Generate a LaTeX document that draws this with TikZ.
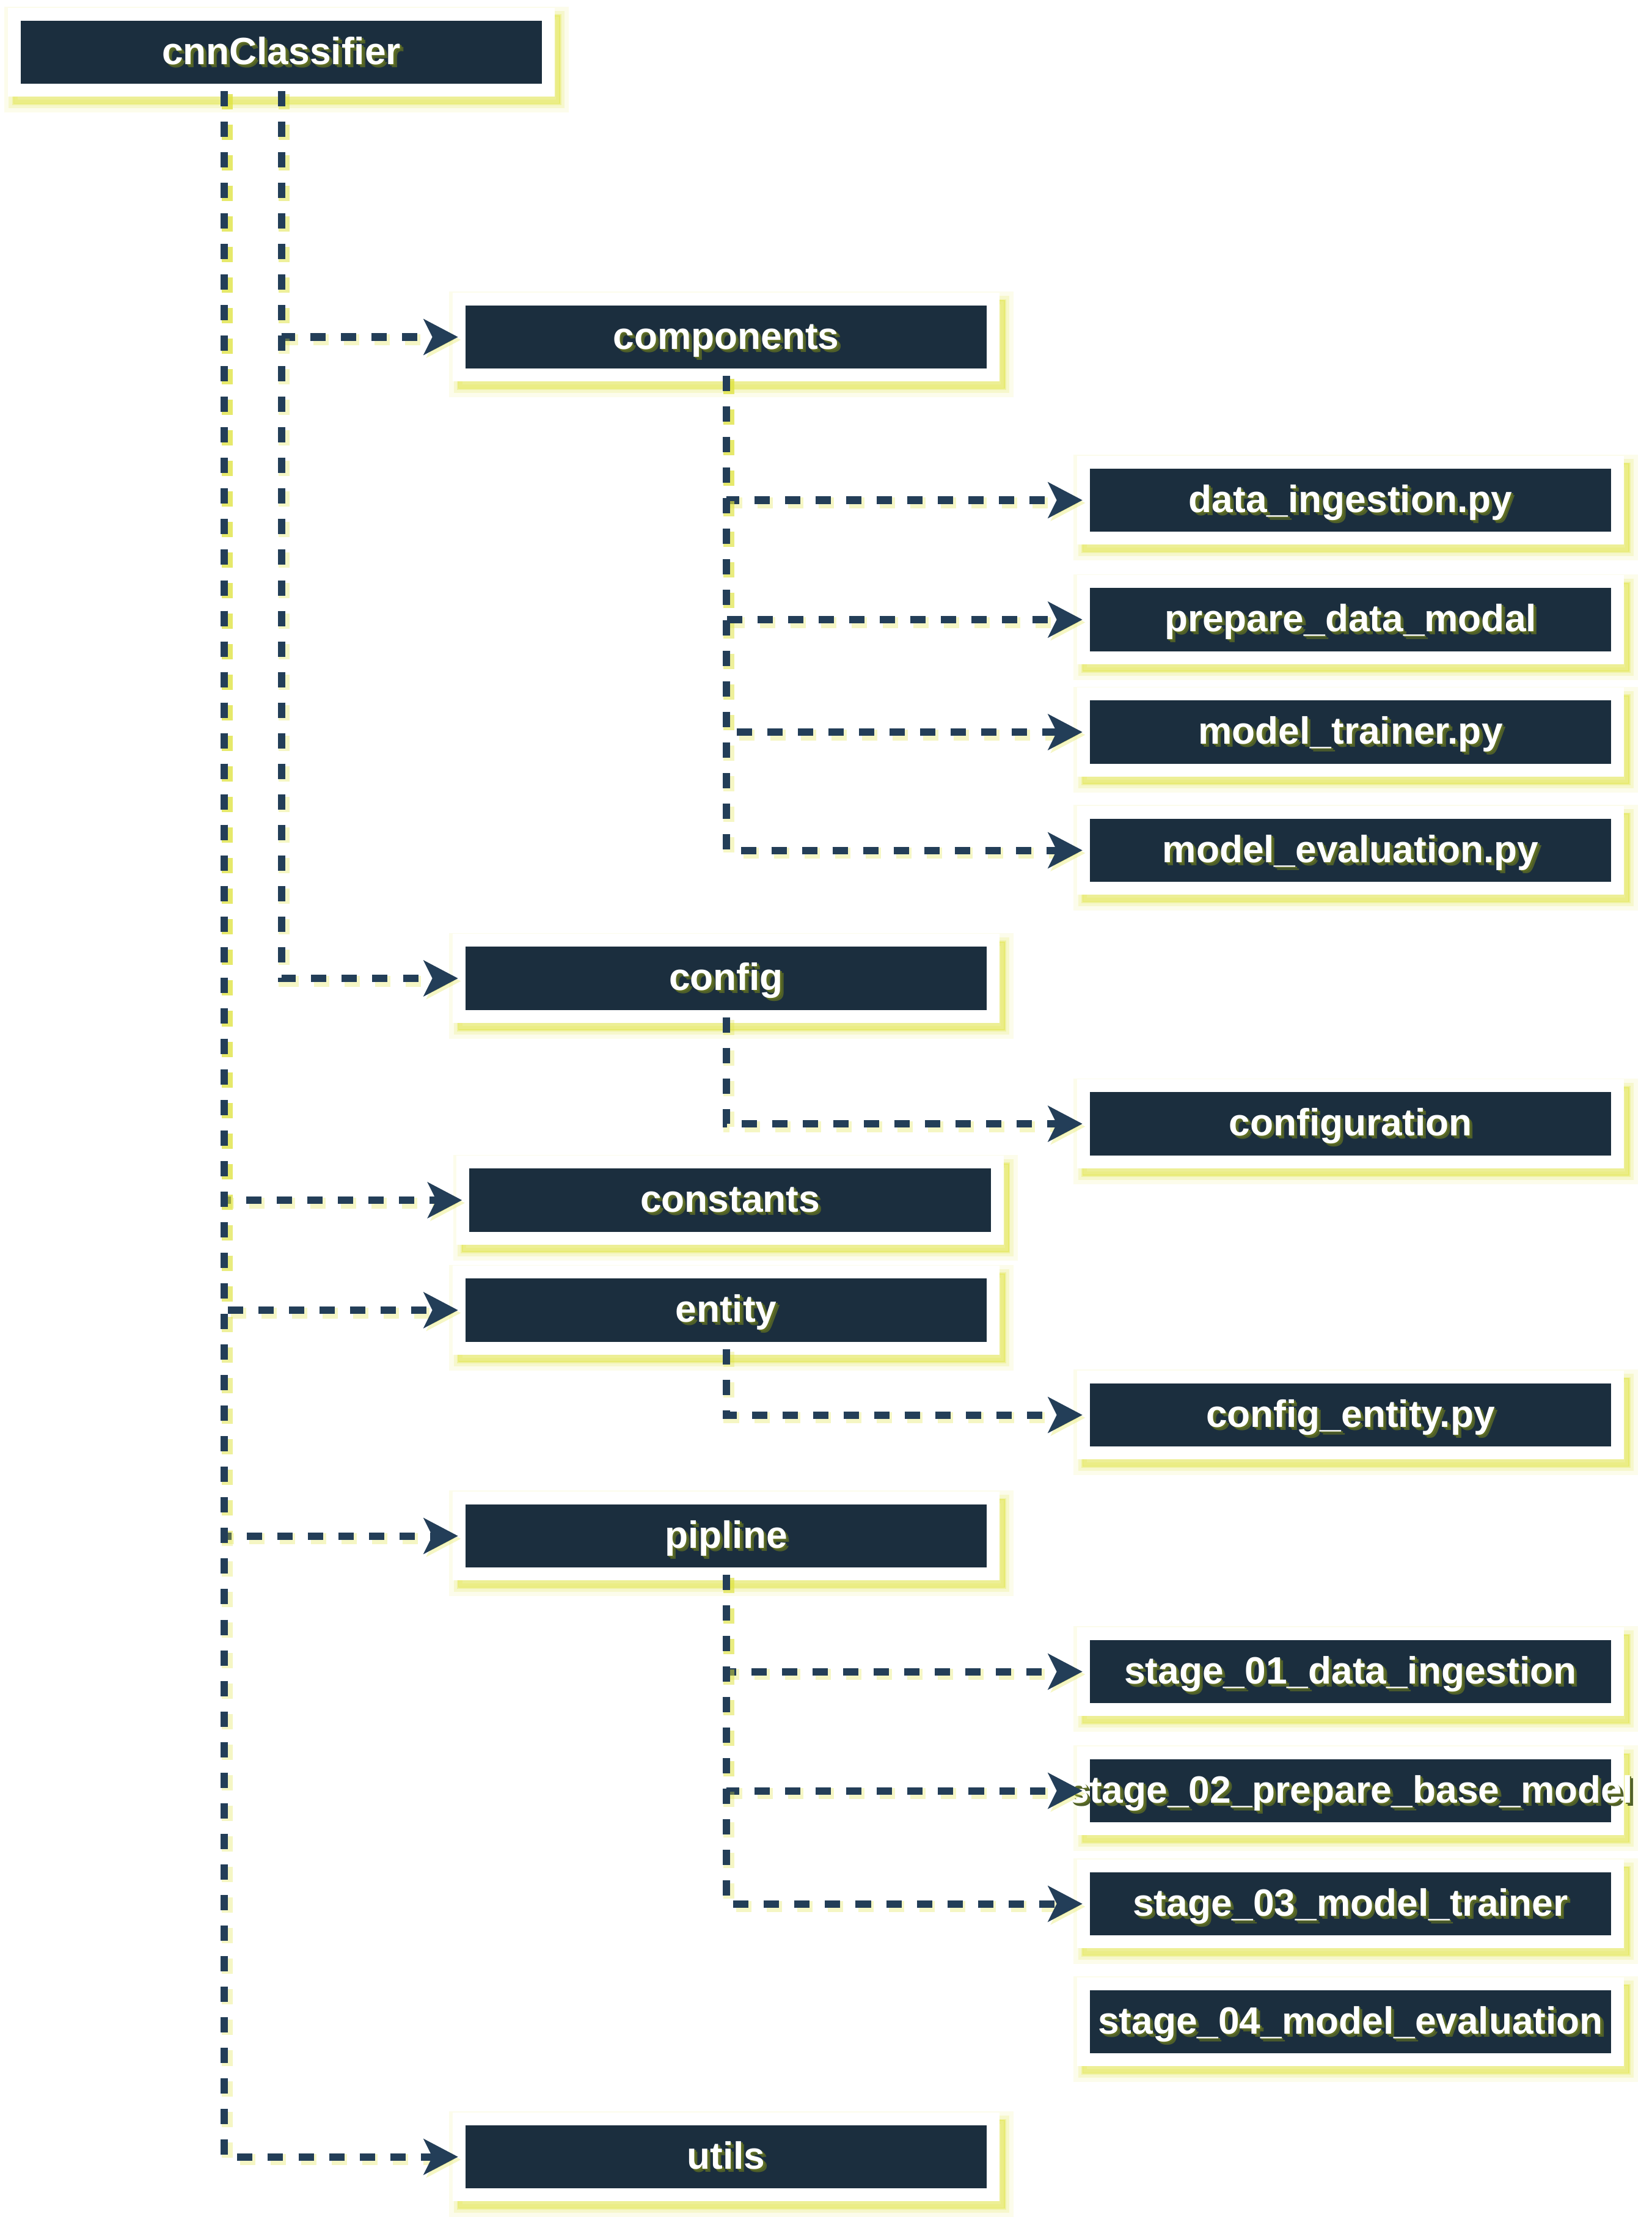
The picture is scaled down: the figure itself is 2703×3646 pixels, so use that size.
\documentclass[tikz,border=0pt]{standalone}
\usepackage{fontspec}
\setmainfont{Liberation Sans}
\usetikzlibrary{arrows.meta}
\definecolor{navybox}{RGB}{27,46,62}
\definecolor{linkcol}{RGB}{35,62,88}
\definecolor{glowy}{RGB}{222,226,60}
\definecolor{glowtxt}{RGB}{95,110,35}
\newcommand{\lbl}[1]{\makebox[0pt]{\kern1.5pt\raisebox{-1.5pt}{\textcolor{glowtxt!75!navybox}{#1}}\kern-1.5pt}\makebox[0pt]{\kern0.7pt\raisebox{-0.7pt}{\textcolor{glowtxt}{#1}}\kern-0.7pt}\makebox[0pt]{#1}}
\tikzset{
    folder/.style = {rectangle, fill = white, minimum width = 8.95cm, minimum height = 1.45cm,
        inner sep = 0pt, outer sep = -0.09cm, text = white,
        font = \bfseries\fontsize{17.7}{20}\selectfont, text height = 0.52cm, text depth = 0.13cm,
        preaction = {fill = glowy, draw = glowy, line width = 8pt, opacity = 0.1, transform canvas = {shift = {(2.5pt,-3.5pt)}}},
        preaction = {fill = glowy, draw = glowy, line width = 4pt, opacity = 0.18, transform canvas = {shift = {(2.5pt,-3.5pt)}}},
        preaction = {fill = glowy, draw = glowy, line width = 1pt, opacity = 0.3, transform canvas = {shift = {(2.5pt,-3.5pt)}}},
        path picture = {\fill[navybox] ([shift = {(0.21cm,0.21cm)}]path picture bounding box.south west) rectangle ([shift = {(-0.21cm,-0.21cm)}]path picture bounding box.north east);}},
    link/.style = {draw = linkcol, line width = 0.12cm, dash pattern = on 0.25cm off 0.25cm,
        -{Stealth[length = 0.56cm, width = 0.58cm, inset = 0.14cm]},
        preaction = {draw = glowy, opacity = 0.3, line width = 0.18cm, dash pattern = on 0.25cm off 0.25cm, transform canvas = {shift = {(1.3pt,-1.3pt)}}}}
}
\begin{document}
\begin{tikzpicture}[x = 0.01cm, y = -0.01cm]
    \useasboundingbox (0,0) rectangle (2703,3646);
    \node[folder] (cnn) at (460.5,85.5) {\lbl{cnnClassifier}};
    \node[folder] (components) at (1188.5,551.5) {\lbl{components}};
    \node[folder] (dataingest) at (2210.5,818.5) {\lbl{data\_ingestion.py}};
    \node[folder] (prepmodal) at (2210.5,1014) {\lbl{prepare\_data\_modal}};
    \node[folder] (trainer) at (2210.5,1198) {\lbl{model\_trainer.py}};
    \node[folder] (evaluation) at (2210.5,1391.5) {\lbl{model\_evaluation.py}};
    \node[folder] (config) at (1188.5,1601) {\lbl{config}};
    \node[folder] (configuration) at (2210.5,1839) {\lbl{configuration}};
    \node[folder] (constants) at (1195,1964) {\lbl{constants}};
    \node[folder] (entity) at (1188.5,2144) {\lbl{entity}};
    \node[folder] (configentity) at (2210.5,2315.5) {\lbl{config\_entity.py}};
    \node[folder] (pipline) at (1188.5,2513.5) {\lbl{pipline}};
    \node[folder] (stagea) at (2210.5,2735.5) {\lbl{stage\_01\_data\_ingestion}};
    \node[folder] (stageb) at (2210.5,2930.5) {\lbl{stage\_02\_prepare\_base\_model}};
    \node[folder] (stagec) at (2210.5,3115.5) {\lbl{stage\_03\_model\_trainer}};
    \node[folder] (staged) at (2210.5,3308.5) {\lbl{stage\_04\_model\_evaluation}};
    \node[folder] (utils) at (1188.5,3529.5) {\lbl{utils}};
    \draw[link] (cnn.south) |- (components.west);
    \draw[link] (cnn.south) |- (config.west);
    \draw[link] ([xshift = -0.935cm]cnn.south) |- (constants.west);
    \draw[link] ([xshift = -0.935cm]cnn.south) |- (entity.west);
    \draw[link] ([xshift = -0.935cm]cnn.south) |- (pipline.west);
    \draw[link] ([xshift = -0.935cm]cnn.south) |- (utils.west);
    \draw[link] (components.south) |- (dataingest.west);
    \draw[link] (components.south) |- (prepmodal.west);
    \draw[link] (components.south) |- (trainer.west);
    \draw[link] (components.south) |- (evaluation.west);
    \draw[link] (config.south) |- (configuration.west);
    \draw[link] (entity.south) |- (configentity.west);
    \draw[link] (pipline.south) |- (stagea.west);
    \draw[link] (pipline.south) |- (stageb.west);
    \draw[link] (pipline.south) |- (stagec.west);
\end{tikzpicture}
\end{document}
